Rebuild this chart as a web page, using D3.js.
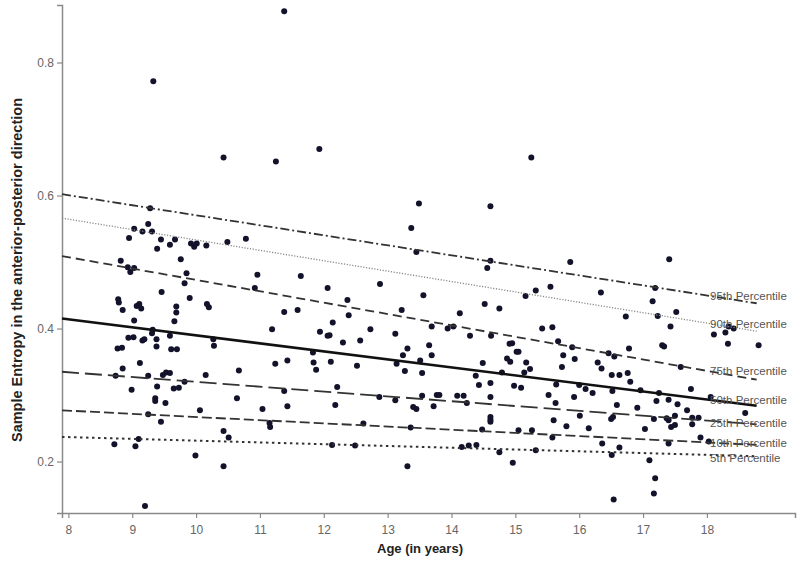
<!DOCTYPE html>
<html>
<head>
<meta charset="utf-8">
<script src="https://cdn.jsdelivr.net/npm/d3@7/dist/d3.min.js"></script>
<style>
  body { margin: 0; background: #fff; }
  #canvas { width: 800px; height: 562px; }
  text { font-family: "Liberation Sans", Arial, sans-serif; }
</style>
</head>
<body>
<div id="canvas"></div>
<script>
// ages (years) of each subject
var ages = [9.33, 11.38,
  10.43, 11.25, 9.28, 9.03, 9.25, 9.16, 9.31, 8.95, 9.45, 9.67, 9.59, 9.39, 9.92, 9.97, 10.01, 10.16, 10.49, 10.78,
  9.76, 8.82, 8.93, 9.03, 8.97, 9.85, 9.82, 10.96, 10.92, 11.64, 9.46, 9.90, 8.78, 8.79, 8.85, 9.07, 9.11, 9.14,
  9.69, 9.69, 10.17, 10.20, 9.03, 9.66, 11.38, 11.59, 11.19,
  8.94, 9.02, 9.31, 9.32, 9.16, 9.19, 9.38, 9.59, 10.27, 10.28, 8.77, 8.84, 9.38, 9.61, 9.70, 11.24, 11.43, 9.12,
  8.85, 8.74, 9.25, 9.48, 9.53, 9.59, 10.15, 10.67, 9.82, 8.99, 9.39, 9.65, 9.73, 11.38, 10.64, 9.36, 9.36, 9.52,
  11.43, 10.06, 11.04, 9.25, 9.45, 11.15, 11.16, 10.43, 10.51, 9.10, 8.72, 9.05, 9.99, 10.43, 9.20,
  11.93, 15.25, 13.49, 14.61, 13.37, 13.45, 14.61, 14.56, 12.06, 12.88, 13.56, 15.16, 15.32, 12.37, 12.39, 12.14,
  13.22, 14.13, 14.52, 14.75, 13.69, 13.94, 14.03, 12.73, 15.42,
  11.94, 12.06, 12.09, 12.30, 12.57, 13.12, 14.29, 14.62, 14.91, 14.95, 11.83, 11.84, 11.88, 12.11, 12.52, 13.31,
  13.24, 13.14, 13.27, 13.51, 13.54, 13.65, 13.69, 14.49, 14.38, 14.43, 14.61, 14.79, 15.02, 15.05, 14.87, 14.92,
  15.17, 15.14, 15.23, 14.98, 15.09, 12.21, 12.18, 12.87, 13.12, 13.54, 13.40, 13.45, 13.72, 13.77, 13.81, 14.09,
  14.19, 14.24, 14.61, 14.61, 14.61, 14.61, 12.62, 13.36, 14.48, 15.05, 15.26, 12.13, 12.49, 14.16, 14.27, 14.39,
  14.75, 15.32, 13.31, 14.96,
  15.86, 17.41, 15.55, 16.34, 17.19, 17.15, 17.52, 16.73, 17.23, 15.58, 17.43, 18.34, 18.42,
  18.11, 18.29, 18.33, 18.81, 15.67, 15.89, 15.75, 15.93, 15.73, 16.29, 16.35, 16.46, 16.55, 16.78, 17.30, 17.33,
  16.51, 16.63, 16.76, 16.80, 17.59, 17.75, 15.64, 15.52, 15.63, 15.92, 16.00, 16.10, 16.21, 16.52, 16.96, 17.25,
  17.21, 17.40, 17.54, 16.59, 16.91, 17.69, 18.06, 18.60, 15.60, 16.01, 15.80, 16.15, 16.50, 16.53, 17.03, 17.17,
  17.37, 17.40, 17.50, 17.44, 17.50, 17.77, 17.87, 17.77, 15.58, 16.36, 16.63, 16.51, 17.40, 17.90, 18.03, 17.10,
  17.19, 17.17, 16.54];

// sample entropy (AP direction), same order as ages
var entropy = [0.772, 0.877,
  0.657, 0.651, 0.581, 0.550, 0.557, 0.546, 0.546, 0.536, 0.534, 0.534, 0.526, 0.520, 0.528, 0.523, 0.528, 0.525, 0.530, 0.535,
  0.504, 0.502, 0.492, 0.491, 0.485, 0.483, 0.468, 0.481, 0.461, 0.479, 0.455, 0.446, 0.444, 0.439, 0.428, 0.434, 0.437, 0.430,
  0.433, 0.424, 0.437, 0.432, 0.412, 0.411, 0.425, 0.428, 0.399,
  0.386, 0.387, 0.393, 0.398, 0.382, 0.384, 0.384, 0.389, 0.384, 0.374, 0.370, 0.371, 0.373, 0.369, 0.369, 0.347, 0.352, 0.348,
  0.340, 0.329, 0.329, 0.330, 0.334, 0.333, 0.330, 0.337, 0.320, 0.308, 0.313, 0.310, 0.311, 0.306, 0.295, 0.295, 0.291, 0.288,
  0.283, 0.277, 0.279, 0.271, 0.260, 0.258, 0.252, 0.246, 0.236, 0.234, 0.226, 0.223, 0.209, 0.193, 0.133,
  0.670, 0.657, 0.588, 0.584, 0.551, 0.515, 0.502, 0.491, 0.461, 0.467, 0.450, 0.449, 0.457, 0.443, 0.420, 0.409,
  0.428, 0.423, 0.437, 0.430, 0.403, 0.400, 0.403, 0.399, 0.400,
  0.395, 0.389, 0.390, 0.379, 0.382, 0.392, 0.389, 0.389, 0.377, 0.378, 0.364, 0.349, 0.338, 0.350, 0.344, 0.370,
  0.360, 0.347, 0.336, 0.352, 0.333, 0.375, 0.360, 0.348, 0.329, 0.315, 0.318, 0.334, 0.365, 0.365, 0.355, 0.350,
  0.349, 0.334, 0.339, 0.314, 0.311, 0.312, 0.285, 0.297, 0.292, 0.299, 0.282, 0.279, 0.283, 0.300, 0.300, 0.299,
  0.299, 0.288, 0.297, 0.267, 0.263, 0.260, 0.257, 0.251, 0.248, 0.247, 0.247, 0.225, 0.224, 0.222, 0.224, 0.225,
  0.214, 0.217, 0.193, 0.198,
  0.500, 0.504, 0.463, 0.454, 0.461, 0.441, 0.425, 0.418, 0.419, 0.402, 0.403, 0.403, 0.400,
  0.391, 0.394, 0.377, 0.375, 0.381, 0.372, 0.360, 0.354, 0.342, 0.349, 0.340, 0.363, 0.358, 0.370, 0.375, 0.373,
  0.330, 0.330, 0.333, 0.320, 0.342, 0.309, 0.316, 0.300, 0.288, 0.297, 0.315, 0.309, 0.303, 0.306, 0.307, 0.303,
  0.291, 0.293, 0.286, 0.285, 0.281, 0.277, 0.297, 0.273, 0.262, 0.269, 0.253, 0.250, 0.264, 0.267, 0.249, 0.264,
  0.265, 0.262, 0.269, 0.252, 0.255, 0.266, 0.266, 0.256, 0.236, 0.227, 0.221, 0.210, 0.227, 0.236, 0.230, 0.202,
  0.175, 0.152, 0.143];

// percentile regression lines: value at start age and end age
var pctNames = ["95th Percentile", "90th Percentile", "75th Percentile", "50th Percentile",
  "25th Percentile", "10th Percentile", "5th Percentile"];
var pctStart = [0.602, 0.566, 0.509, 0.415, 0.335, 0.277, 0.237];
var pctEnd = [0.438, 0.396, 0.323, 0.284, 0.256, 0.225, 0.208];
var lineAges = [7.9, 18.78];

var xTicks = [8, 9, 10, 11, 12, 13, 14, 15, 16, 17, 18];
var yTicks = [0.2, 0.4, 0.6, 0.8];

var W = 800, H = 562;
var svg = d3.select("#canvas").append("svg").attr("width", W).attr("height", H);

var x = d3.scaleLinear().domain([7.9, 19.38]).range([62, 795]);
var y = d3.scaleLinear().domain([0.1226, 0.8865]).range([513, 5]);

// line styles per percentile (nudge = label shift in px)
var styles = [
  {dash: "9,3,2,3", w: 1.8, c: "#333", nudge: 0},
  {dash: "1.2,1.6", w: 1.3, c: "#888", nudge: 0},
  {dash: "9,5", w: 1.8, c: "#333", nudge: 0},
  {dash: null, w: 2.6, c: "#111", nudge: 0},
  {dash: "17,6", w: 1.8, c: "#333", nudge: 2},
  {dash: "10,4", w: 1.8, c: "#333", nudge: 0},
  {dash: "2.5,3.5", w: 2, c: "#333", nudge: 3}
];

// axes
var xAxis = d3.axisBottom(x).tickValues(xTicks).tickSize(5).tickFormat(d3.format("d"));
var yAxis = d3.axisLeft(y).tickValues(yTicks).tickSize(5).tickFormat(d3.format(".1f"));

var gx = svg.append("g").attr("transform", "translate(0,513)").call(xAxis);
var gy = svg.append("g").attr("transform", "translate(62,0)").call(yAxis);
[gx, gy].forEach(function(g) {
  g.select(".domain").attr("stroke", "#8a8a8a").attr("stroke-width", 1.5);
  g.selectAll(".tick line").attr("stroke", "#8a8a8a").attr("stroke-width", 1.2);
  g.selectAll(".tick text").attr("fill", "#666").style("font-size", "12px")
    .style("font-family", "'Liberation Sans', Arial, sans-serif");
});
gx.selectAll(".tick text").attr("dy", "1.1em");

// points
svg.append("g").selectAll("circle")
  .data(ages.map(function(a, i) { return [a, entropy[i]]; }))
  .enter().append("circle")
  .attr("cx", function(d) { return x(d[0]); })
  .attr("cy", function(d) { return y(d[1]); })
  .attr("r", 3)
  .attr("fill", "#12122a");

// percentile lines
pctNames.forEach(function(name, i) {
  var st = styles[i];
  var p = svg.append("line")
    .attr("x1", x(lineAges[0])).attr("y1", y(pctStart[i]))
    .attr("x2", x(lineAges[1])).attr("y2", y(pctEnd[i]))
    .attr("stroke", st.c).attr("stroke-width", st.w);
  if (st.dash) p.attr("stroke-dasharray", st.dash);
});

// labels sit on the line at age 18
pctNames.forEach(function(name, i) {
  var t = (18.05 - lineAges[0]) / (lineAges[1] - lineAges[0]);
  var v = pctStart[i] + (pctEnd[i] - pctStart[i]) * t;
  svg.append("text")
    .attr("x", x(18.05))
    .attr("y", y(v) + 4 + styles[i].nudge)
    .attr("fill", "#555")
    .style("font-size", "11.5px")
    .text(name);
});

// axis titles
svg.append("text")
  .attr("x", 420).attr("y", 553)
  .attr("text-anchor", "middle")
  .style("font-size", "13px").style("font-weight", "bold")
  .attr("fill", "#222")
  .text("Age (in years)");

svg.append("text")
  .attr("transform", "translate(22,270) rotate(-90)")
  .attr("text-anchor", "middle")
  .style("font-size", "14.5px").style("font-weight", "bold")
  .attr("fill", "#222")
  .text("Sample Entropy in the anterior-posterior direction");
</script>
</body>
</html>
